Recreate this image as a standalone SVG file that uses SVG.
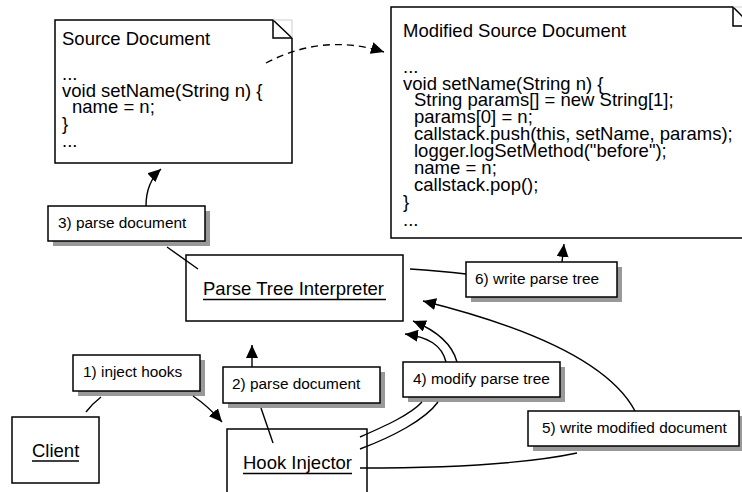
<svg xmlns="http://www.w3.org/2000/svg" width="742" height="492" viewBox="0 0 742 492">
<style>
  text { font-family: "Liberation Sans", Arial, Helvetica, sans-serif; fill: #000; }
  .doc { font-size: 18.5px; }
  .lbl { font-size: 15.4px; }
  .name { font-size: 18.5px; }
  .box { fill: #fff; stroke: #000; stroke-width: 1.5; }
  .shadow { fill: #999; stroke: none; }
  .fold { fill: none; stroke: #000; stroke-width: 1.5; }
  .faint { fill: none; stroke: #ccc; stroke-width: 1; }
  .ul { stroke: #000; stroke-width: 1.3; }
  .conn { fill: none; stroke: #000; stroke-width: 1.4; }
  .arrow { marker-end: url(#head); }
  .dash { stroke-dasharray: 7 5; }
</style>
<defs>
  <marker id="head" markerUnits="userSpaceOnUse" markerWidth="14" markerHeight="12" viewBox="0 0 14 12" refX="13" refY="6" orient="auto">
    <path d="M0,0 L13,6 L0,12 Z" fill="#000"/>
  </marker>
</defs>
<rect width="742" height="492" fill="#fff"/>

<g id="source-document">
  <path class="box" d="M55,20 H273 L292,38 V163 H55 Z"/>
  <path class="faint" d="M273,20 H292 V38"/>
  <path class="fold" d="M273,20 V38 H292"/>
  <text class="doc" x="62" y="45">Source Document</text>
  <text class="doc" x="62" y="80">...</text>
  <text class="doc" x="62" y="97">void setName(String n) {</text>
  <text class="doc" x="72" y="113">name = n;</text>
  <text class="doc" x="62" y="130">}</text>
  <text class="doc" x="62" y="147">...</text>
</g>

<g id="modified-source-document">
  <path class="box" d="M391,7 H733 L752,26 V238 H391 Z"/>
  <path class="faint" d="M733,7 H752"/>
  <path class="fold" d="M733,7 V26 H752"/>
  <text class="doc" x="403" y="37">Modified Source Document</text>
  <text class="doc" x="403" y="73">...</text>
  <text class="doc" x="403" y="90">void setName(String n) {</text>
  <text class="doc" x="414" y="106">String params[] = new String[1];</text>
  <text class="doc" x="414" y="123">params[0] = n;</text>
  <text class="doc" x="414" y="140">callstack.push(this, setName, params);</text>
  <text class="doc" x="414" y="157">logger.logSetMethod("before");</text>
  <text class="doc" x="414" y="174">name = n;</text>
  <text class="doc" x="414" y="191">callstack.pop();</text>
  <text class="doc" x="403" y="208">}</text>
  <text class="doc" x="403" y="226">...</text>
</g>

<g id="parse-tree-interpreter">
  <rect class="box" x="186" y="255" width="217" height="66"/>
  <text class="name" x="203" y="295">Parse Tree Interpreter</text>
  <line class="ul" x1="203" y1="299.5" x2="386" y2="299.5"/>
</g>

<g id="client">
  <rect class="box" x="12" y="417" width="87" height="66"/>
  <text class="name" x="32" y="457">Client</text>
  <line class="ul" x1="32" y1="461" x2="79" y2="461"/>
</g>

<g id="hook-injector">
  <path class="box" d="M227,500 V429 H367 V500"/>
  <text class="name" x="243" y="469">Hook Injector</text>
  <line class="ul" x1="243" y1="473.5" x2="352" y2="473.5"/>
</g>

<g id="label-1">
  <rect class="shadow" x="78" y="360" width="127" height="36"/>
  <rect class="box" x="73" y="355" width="127" height="36"/>
  <text class="lbl" x="83" y="377">1) inject hooks</text>
</g>

<g id="label-2">
  <rect class="shadow" x="228" y="372" width="157" height="36"/>
  <rect class="box" x="223" y="367" width="157" height="36"/>
  <text class="lbl" x="232" y="389">2) parse document</text>
</g>

<g id="label-3">
  <rect class="shadow" x="53" y="211" width="157" height="35"/>
  <rect class="box" x="48" y="206" width="157" height="35"/>
  <text class="lbl" x="58" y="228">3) parse document</text>
</g>

<g id="label-4">
  <rect class="shadow" x="408" y="367" width="157" height="35"/>
  <rect class="box" x="403" y="362" width="157" height="35"/>
  <text class="lbl" x="413" y="384">4) modify parse tree</text>
</g>

<g id="label-5">
  <rect class="shadow" x="533" y="416" width="212" height="35"/>
  <rect class="box" x="528" y="411" width="211" height="35"/>
  <text class="lbl" x="542" y="433">5) write modified document</text>
</g>

<g id="label-6">
  <rect class="shadow" x="471" y="267" width="151" height="35"/>
  <rect class="box" x="466" y="262" width="151" height="35"/>
  <text class="lbl" x="475" y="284">6) write parse tree</text>
</g>

<g id="connectors">
  <path class="conn dash arrow" d="M266,63 C300,45 340,38 384,52"/>
  <path class="conn" d="M101,397 Q92,404 86,412"/>
  <path class="conn arrow" d="M193,396 Q208,406 222,422"/>
  <path class="conn arrow" d="M252,367 L252,345"/>
  <path class="conn" d="M261,408 L273,443"/>
  <path class="conn arrow" d="M146,206 C146,190 151,178 161,169"/>
  <path class="conn" d="M167,247 L198,269"/>
  <path class="conn arrow" d="M446,362 C442,345 428,337 405,334"/>
  <path class="conn arrow" d="M457,362 C452,343 435,330 413,321"/>
  <path class="conn" d="M360,437 C385,426 410,415 422,402"/>
  <path class="conn" d="M360,449 C392,437 425,420 438,402"/>
  <path class="conn arrow" d="M635,411 Q600,345 423,301"/>
  <path class="conn" d="M360,468 C450,468 530,463 577,453"/>
  <path class="conn" d="M410,269 Q440,271 466,274"/>
  <path class="conn arrow" d="M562,262 L564,244"/>
</g>
</svg>
